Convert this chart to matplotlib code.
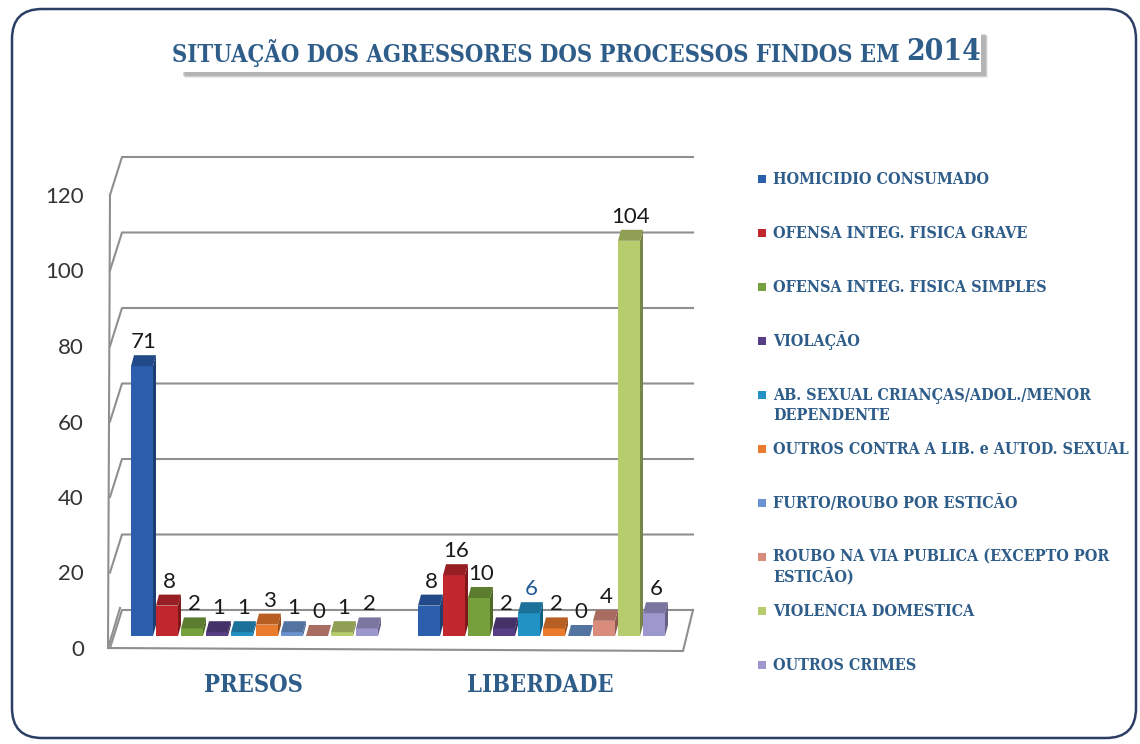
import matplotlib.pyplot as plt
from matplotlib.patches import Polygon, Rectangle, FancyBboxPatch
from matplotlib.colors import to_rgb

# data
categories = [
    "HOMICIDIO CONSUMADO",
    "OFENSA INTEG. FISICA GRAVE",
    "OFENSA INTEG. FISICA SIMPLES",
    "VIOLAÇÃO",
    "AB. SEXUAL CRIANÇAS/ADOL./MENOR\nDEPENDENTE",
    "OUTROS CONTRA A LIB. e AUTOD. SEXUAL",
    "FURTO/ROUBO POR ESTICÃO",
    "ROUBO NA VIA PUBLICA (EXCEPTO POR\nESTICÃO)",
    "VIOLENCIA DOMESTICA",
    "OUTROS CRIMES",
]
groups = ["PRESOS", "LIBERDADE"]
presos = [71, 8, 2, 1, 1, 3, 1, 0, 1, 2]
liberdade = [8, 16, 10, 2, 6, 2, 0, 4, 104, 6]
yticks = [0, 20, 40, 60, 80, 100, 120]
colors = ["#2b5fae", "#c1272d", "#76a03c", "#563f85", "#2291c4",
          "#ea7a2c", "#6b93cf", "#d98b7c", "#b7cc6c", "#9c97cc"]
title = "SITUAÇÃO DOS AGRESSORES DOS PROCESSOS FINDOS EM"
year = "2014"

W, H = 1140, 744
TXT = "#2f5d8a"
GRID = "#8f8f8f"
SERIF = dict(family="DejaVu Serif", fontstretch="condensed", fontweight="bold")

# layout of the fake 3d box (pixels)
FLOOR = 636          # front bottom of the bars
PX = 3.8             # px per unit for the bars
BACK0, BACKPX = 610, 3.775
WALL_L, WALL_R, FRONT_X, DEPTH = 122, 693, 110, 38
centers = [256, 543]
STEP, BW, DX, DY = 25, 22, 3, 11

fig = plt.figure(figsize=(W / 100, H / 100), dpi=100)
deco = fig.add_axes([0, 0, 1, 1], zorder=0)
deco.set_xlim(0, W)
deco.set_ylim(H, 0)
deco.axis("off")

ax = fig.add_axes([0, 0, 1, 1], zorder=1)
ax.set_xlim(0, W)
ax.set_ylim((FLOOR - H) / PX, FLOOR / PX)
ax.axis("off")
ax.patch.set_alpha(0)

# outer frame
deco.add_patch(FancyBboxPatch((12, 9), 1124, 729, boxstyle="round,pad=0,rounding_size=30",
                              fc="white", ec="#2c3e66", lw=1.8))

# title box with shadow
for k, a in enumerate([0.12, 0.18, 0.25]):
    deco.add_patch(Rectangle((182 + 3 - k, 33 + 3 - k), 803, 42, fc="#606060", ec="none", alpha=a))
deco.add_patch(Rectangle((178, 30), 803, 42, fc="white", ec="none"))
deco.text(900, 53, title, ha="right", va="center", fontsize=17, color=TXT, **SERIF)
deco.text(906, 51, year, ha="left", va="center", fontsize=21.5, color=TXT, **SERIF)

# back wall grid + left wall
for g in yticks:
    yb = BACK0 - BACKPX * g
    deco.plot([FRONT_X, WALL_L, WALL_R], [yb + DEPTH, yb, yb], color=GRID, lw=1.5, zorder=1)
    deco.text(84, 650 - BACKPX * g, str(g), ha="right", va="center", fontsize=16,
              family="Lato", color="#333333")
top = BACK0 - BACKPX * yticks[-1] + DEPTH
deco.plot([FRONT_X, FRONT_X - 2], [top, 648], color=GRID, lw=1.5, zorder=1)
# floor
deco.plot([WALL_R, 683, FRONT_X - 2, WALL_L - 2], [BACK0, 651, 648, 608], color=GRID, lw=1.5, zorder=1)


def shade(c, f):
    return tuple(min(1, ch * f) for ch in to_rgb(c))


dyv = DY / PX
for gi, vals in enumerate([presos, liberdade]):
    x0 = centers[gi] - 5 * STEP
    for i, v in enumerate(vals):
        x = x0 + i * STEP
        ax.bar(x, v, width=BW, bottom=0, align="edge", color=colors[i], ec="none", zorder=3)
        ax.add_patch(Polygon([(x + BW, 0), (x + BW + DX, dyv), (x + BW + DX, v + dyv), (x + BW, v)],
                             closed=True, fc=shade(colors[i], 0.65), ec="none", zorder=3))
        ax.add_patch(Polygon([(x, v), (x + BW, v), (x + BW + DX, v + dyv), (x + DX, v + dyv)],
                             closed=True, fc=shade(colors[i], 0.78), ec="none", zorder=3))
        lc = "#1f5a96" if (gi == 1 and i == 4) else "#1a1a1a"
        ax.text(x + BW / 2 + 2, v + (DY + 13) / PX, str(v), ha="center", va="center",
                fontsize=16, family="Lato", color=lc, zorder=4)
    deco.text(centers[gi] - 3, 685, groups[gi], ha="center", va="center",
              fontsize=17, color=TXT, **SERIF)

# legend
for i, name in enumerate(categories):
    y = 179 + 54 * i
    deco.add_patch(Rectangle((758, y - 4), 8, 8, fc=colors[i], ec="none"))
    for j, line in enumerate(name.split("\n")):
        deco.text(773, y + 21 * j, line, ha="left", va="center", fontsize=11.5, color=TXT, **SERIF)

fig.savefig("out.png", dpi=100)
